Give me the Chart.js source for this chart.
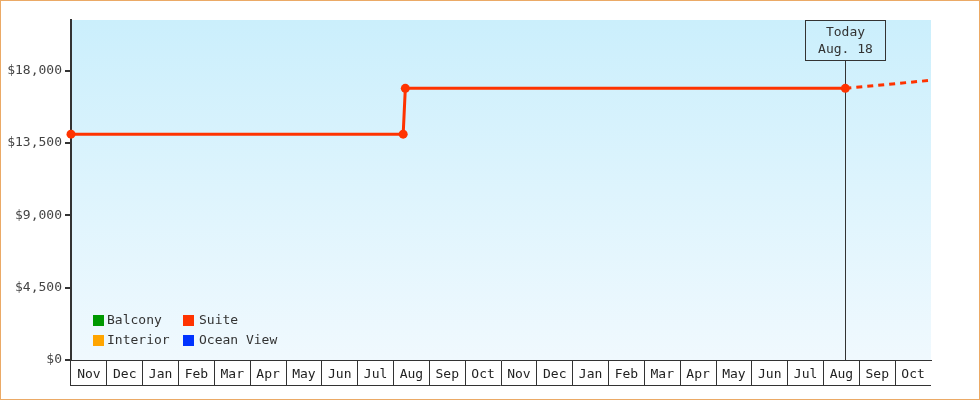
<!DOCTYPE html>
<html><head><meta charset="utf-8">
<script src="https://cdn.jsdelivr.net/npm/chart.js@4"></script>
<style>
html,body{margin:0;padding:0;background:#fff;}
#wrap{width:978px;height:398px;border:1px solid #EBAA66;}
canvas{display:block;}
</style></head><body>
<div id="wrap"><canvas id="c" width="978" height="398"></canvas></div>
<script>
const monthLabels = ['Nov','Dec','Jan','Feb','Mar','Apr','May','Jun','Jul','Aug','Sep','Oct',
                     'Nov','Dec','Jan','Feb','Mar','Apr','May','Jun','Jul','Aug','Sep','Oct'];
const seriesNames = ['Balcony','Interior','Suite','Ocean View'];
const seriesColors = ['#009900','#FFA500','#FF3300','#0033FF'];
// Suite price: x = month index (fractional) from first Nov, y = price
const suiteX = [0, 9.27, 9.33, 21.61, 24];
const suiteY = [14050, 14050, 16900, 16900, 17400];
const forecastFrom = 3;
const yTickValues = [0, 4500, 9000, 13500, 18000];
const yMax = 21150;
const todayX = 21.61;
const todayText = ['Today', 'Aug. 18'];

const FONT = 'DejaVu Sans Mono';

const bgPlugin = {
  id: 'bg',
  beforeDraw(chart) {
    const {ctx, chartArea: a} = chart;
    const g = ctx.createLinearGradient(0, a.top, 0, a.bottom);
    g.addColorStop(0, '#CBEFFC');
    g.addColorStop(1, '#F0F9FE');
    ctx.save();
    ctx.fillStyle = g;
    ctx.fillRect(a.left, a.top, a.right - a.left, a.bottom - a.top);
    ctx.restore();
  }
};

const todayPlugin = {
  id: 'today',
  beforeDatasetsDraw(chart) {
    const {ctx, chartArea: a} = chart;
    const px = Math.round(chart.scales.x.getPixelForValue(todayX)) + 0.5;
    const top = a.top + 0.5;
    ctx.save();
    ctx.strokeStyle = '#333';
    ctx.lineWidth = 1;
    ctx.strokeRect(px - 40, top, 80, 40);
    ctx.beginPath();
    ctx.moveTo(px, top + 40);
    ctx.lineTo(px, a.bottom);
    ctx.stroke();
    ctx.fillStyle = '#333';
    ctx.font = '13px "' + FONT + '"';
    ctx.textAlign = 'center';
    ctx.textBaseline = 'middle';
    ctx.fillText(todayText[0], px, a.top + 12.5);
    ctx.fillText(todayText[1], px, a.top + 30);
    ctx.restore();
  }
};

const legendPlugin = {
  id: 'insideLegend',
  afterDraw(chart) {
    const {ctx, chartArea: a} = chart;
    ctx.save();
    ctx.font = '13px "' + FONT + '"';
    ctx.textBaseline = 'middle';
    ctx.textAlign = 'left';
    chart.data.datasets.forEach((ds, i) => {
      const col = Math.floor(i / 2), row = i % 2;
      const x = a.left + 22 + col * 90;
      const y = a.bottom - 45 + row * 20;
      ctx.fillStyle = ds.borderColor;
      ctx.fillRect(x, y, 11, 11);
      ctx.fillStyle = '#333';
      ctx.fillText(ds.label, x + 14 + col * 2, y + 6);
    });
    // bottom line of the month boxes
    ctx.strokeStyle = '#333';
    ctx.lineWidth = 1;
    ctx.beginPath();
    ctx.moveTo(a.left - 1, a.bottom + 25.5);
    ctx.lineTo(a.right, a.bottom + 25.5);
    ctx.stroke();
    ctx.restore();
  }
};

new Chart(document.getElementById('c'), {
  type: 'line',
  data: {
    datasets: seriesNames.map((n, i) => ({
      label: n,
      borderColor: seriesColors[i],
      backgroundColor: seriesColors[i],
      data: n === 'Suite' ? suiteX.map((x, j) => ({x: x, y: suiteY[j]})) : [],
      borderWidth: 3,
      pointRadius: ctx => ctx.dataIndex >= suiteX.length - 1 ? 0 : 4.5,
      pointHoverRadius: 0,
      pointBorderWidth: 0,
      tension: 0,
      clip: 8,
      segment: {
        borderDash: ctx => ctx.p0DataIndex >= forecastFrom ? [6, 5] : undefined
      }
    }))
  },
  options: {
    responsive: false,
    animation: false,
    events: [],
    layout: {padding: {top: 19, right: 48, left: 0, bottom: 0}},
    plugins: {legend: {display: false}, tooltip: {enabled: false}},
    scales: {
      x: {type: 'linear', display: false, min: 0, max: 24},
      xm: {
        type: 'category',
        labels: monthLabels,
        position: 'bottom',
        offset: true,
        grid: {
          offset: true, drawOnChartArea: false, drawTicks: true, tickLength: 25, lineWidth: 1,
          color: ctx => (ctx.index === undefined || ctx.index >= monthLabels.length) ? 'rgba(0,0,0,0)' : '#333'
        },
        border: {display: true, color: '#333', width: 1},
        ticks: {font: {family: FONT, size: 13}, color: '#222', padding: -18, maxRotation: 0, autoSkip: false},
        afterFit: s => { s.height = 39; }
      },
      y: {
        min: 0,
        max: yMax,
        afterBuildTicks: s => { s.ticks = yTickValues.map(v => ({value: v})); },
        grid: {drawOnChartArea: false, drawTicks: true, tickLength: 6, color: '#333', lineWidth: 2},
        border: {display: true, color: '#333', width: 2},
        ticks: {callback: v => '$' + Number(v).toLocaleString('en-US'), font: {family: FONT, size: 13}, color: '#444', padding: 3},
        afterFit: s => { s.width = 70; }
      }
    }
  },
  plugins: [bgPlugin, todayPlugin, legendPlugin]
});
</script>
</body></html>
